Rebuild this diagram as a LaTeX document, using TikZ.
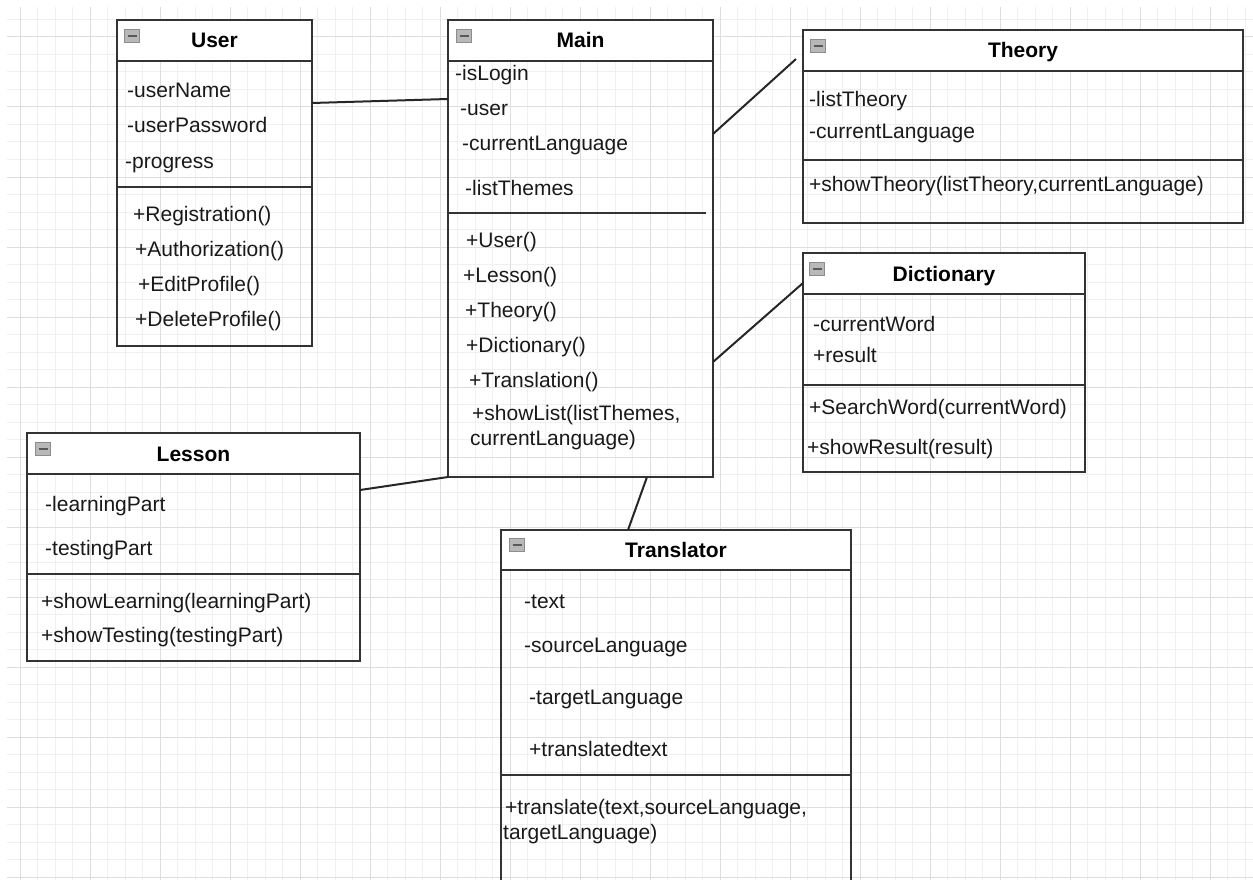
\documentclass[tikz,border=0pt]{standalone}
\usepackage{fontspec}
\setmainfont{Liberation Sans}
\newcommand{\umlfont}{\fontsize{21}{24}\selectfont}
\tikzset{
  gridminor/.style={draw=black!6, line width=1pt},
  gridmajor/.style={draw=black!13, line width=1pt},
  classhead/.style={draw=black!80, line width=2pt, fill=white, anchor=north west,
    minimum height=41pt, inner sep=0pt, outer sep=0pt, font=\umlfont\bfseries,
    text height=15pt, text depth=0pt},
  classbody/.style={draw=black!80, line width=2pt, anchor=north west,
    inner sep=0pt, outer sep=0pt},
  sepline/.style={draw=black!80, line width=1.6pt},
  member/.style={anchor=base west, inner sep=0pt, text=black!90},
  minusicon/.style={draw=black!45, fill=black!28, minimum width=15pt,
    minimum height=13pt, inner sep=0pt, line width=1pt,
    path picture={\draw[black!65, line width=2pt]
      ([xshift=3pt]path picture bounding box.west) --
      ([xshift=-3pt]path picture bounding box.east);}},
  assoc/.style={draw=black!85, line width=2pt}
}
\begin{document}
\begin{tikzpicture}[x=1pt, y=-1pt, font=\umlfont]
        \useasboundingbox (0,0) rectangle (1253,880);
        \clip (0,0) rectangle (1253,880);
        %% Grid
        \foreach \gx in {20,37.5,...,1253} \draw[gridminor] (\gx,7) -- (\gx,880);
        \foreach \gy in {19.5,37,...,880} \draw[gridminor] (7,\gy) -- (1253,\gy);
        \foreach \gx in {20,90,...,1253} \draw[gridmajor] (\gx,7) -- (\gx,880);
        \foreach \gy in {37,107,...,880} \draw[gridmajor] (7,\gy) -- (1253,\gy);
        %% User
        \node[classhead, minimum width=195pt] (user) at (117,20) {User};
        \node[classbody, minimum width=195pt, minimum height=285pt] (userbody) at (user.south west) {};
        \node[minusicon] (usermin) at ([shift={(15,16)}]user.north west) {};
        \draw[sepline] (userbody.west |- 0,187) -- (userbody.east |- 0,187);
        \node[member] (user-a1) at (127,98) {-userName};
        \node[member] (user-a2) at (127,133) {-userPassword};
        \node[member] (user-a3) at (125,168) {-progress};
        \node[member] (user-m1) at (133,221) {+Registration()};
        \node[member] (user-m2) at (135,256) {+Authorization()};
        \node[member] (user-m3) at (138,291) {+EditProfile()};
        \node[member] (user-m4) at (135,326) {+DeleteProfile()};
        %% Main
        \node[classhead, minimum width=265pt] (main) at (448,20) {Main};
        \node[classbody, minimum width=265pt, minimum height=416pt] (mainbody) at (main.south west) {};
        \node[minusicon] (mainmin) at ([shift={(16,16)}]main.north west) {};
        \draw[sepline] (mainbody.west |- 0,213) -- (706,213);
        \node[member] (main-a1) at (455,81) {-isLogin};
        \node[member] (main-a2) at (460,116) {-user};
        \node[member] (main-a3) at (462,151) {-currentLanguage};
        \node[member] (main-a4) at (465,195) {-listThemes};
        \node[member] (main-m1) at (466,247) {+User()};
        \node[member] (main-m2) at (463,282) {+Lesson()};
        \node[member] (main-m3) at (465,317) {+Theory()};
        \node[member] (main-m4) at (466,352) {+Dictionary()};
        \node[member] (main-m5) at (469,387) {+Translation()};
        \node[member] (main-m6) at (472,420) {+showList(listThemes,};
        \node[member] (main-m6b) at (470,445) {currentLanguage)};
        %% Theory
        \node[classhead, minimum width=440pt] (theory) at (803,30) {Theory};
        \node[classbody, minimum width=440pt, minimum height=152pt] (theorybody) at (theory.south west) {};
        \node[minusicon] (theorymin) at ([shift={(15,16)}]theory.north west) {};
        \draw[sepline] (theorybody.west |- 0,160) -- (theorybody.east |- 0,160);
        \node[member] (theory-a1) at (809,107) {-listTheory};
        \node[member] (theory-a2) at (809,139) {-currentLanguage};
        \node[member] (theory-m1) at (809,191) {+showTheory(listTheory,currentLanguage)};
        %% Dictionary
        \node[classhead, minimum width=282pt] (dict) at (803,253) {Dictionary};
        \node[classbody, minimum width=282pt, minimum height=178pt] (dictbody) at (dict.south west) {};
        \node[minusicon] (dictmin) at ([shift={(14,16)}]dict.north west) {};
        \draw[sepline] (dictbody.west |- 0,385) -- (dictbody.east |- 0,385);
        \node[member] (dict-a1) at (813,331) {-currentWord};
        \node[member] (dict-a2) at (813,362) {+result};
        \node[member] (dict-m1) at (809,414) {+SearchWord(currentWord)};
        \node[member] (dict-m2) at (807,454) {+showResult(result)};
        %% Lesson
        \node[classhead, minimum width=333pt] (lesson) at (27,433) {Lesson};
        \node[classbody, minimum width=333pt, minimum height=187pt] (lessonbody) at (lesson.south west) {};
        \node[minusicon] (lessonmin) at ([shift={(16,16)}]lesson.north west) {};
        \draw[sepline] (lessonbody.west |- 0,574) -- (lessonbody.east |- 0,574);
        \node[member] (lesson-a1) at (45,511) {-learningPart};
        \node[member] (lesson-a2) at (45,555) {-testingPart};
        \node[member] (lesson-m1) at (41,608) {+showLearning(learningPart)};
        \node[member] (lesson-m2) at (41,642) {+showTesting(testingPart)};
        %% Translator
        \node[classhead, minimum width=350pt, minimum height=40pt] (trans) at (501,530) {Translator};
        \node[classbody, minimum width=350pt, minimum height=330pt] (transbody) at (trans.south west) {};
        \node[minusicon] (transmin) at ([shift={(16,15)}]trans.north west) {};
        \draw[sepline] (transbody.west |- 0,775) -- (transbody.east |- 0,775);
        \node[member] (trans-a1) at (524,608) {-text};
        \node[member] (trans-a2) at (524,652) {-sourceLanguage};
        \node[member] (trans-a3) at (529,704) {-targetLanguage};
        \node[member] (trans-a4) at (529,756) {+translatedtext};
        \node[member] (trans-m1) at (505,814) {+translate(text,sourceLanguage,};
        \node[member] (trans-m1b) at (503,839) {targetLanguage)};
        %% Associations
        \draw[assoc] ([yshift=-42pt]userbody.north east) -- ([yshift=-38pt]mainbody.north west);
        \draw[assoc] ([yshift=-73pt]mainbody.north east) -- ([shift={(-7,29)}]theory.north west);
        \draw[assoc] ([yshift=-301pt]mainbody.north east) -- ([yshift=-30pt]dict.north west);
        \draw[assoc] ([yshift=-16pt]lessonbody.north east) -- (mainbody.south west);
        \draw[assoc] ([xshift=199pt]mainbody.south west) -- ([xshift=127pt]trans.north west);
\end{tikzpicture}
\end{document}
